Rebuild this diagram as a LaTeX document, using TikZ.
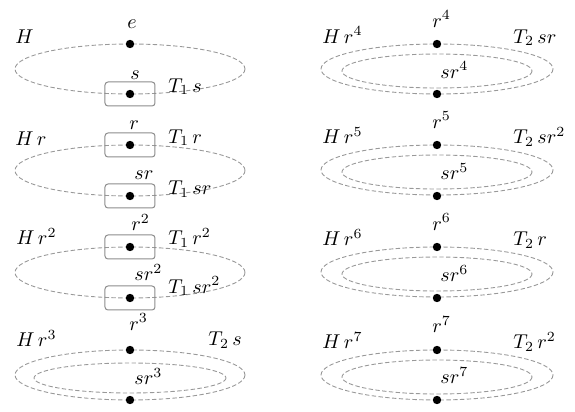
\documentclass[tikz,border=0pt]{standalone}
\usepackage{amsmath}
\begin{document}
\begin{tikzpicture}[x=0.5pt,y=-0.5pt,
    dot/.style={circle,fill=black,inner sep=0pt,minimum size=4.2pt},
    grp/.style={gray!80,dash pattern=on 2.2pt off 1.2pt,line width=0.45pt},
    cbox/.style={draw=gray!90,rounded corners=1.5pt,minimum width=25pt,minimum height=12pt,inner sep=0pt,line width=0.5pt},
    lab/.style={anchor=base west,inner sep=0pt}]
    \useasboundingbox (0,0) rectangle (575,412);
    % left column: H and its cosets
    \draw[grp] (130,69) ellipse [x radius=115,y radius=25];
    \draw[grp] (130,170.5) ellipse [x radius=115,y radius=25.5];
    \draw[grp] (130,272.5) ellipse [x radius=115,y radius=25.5];
    \draw[grp] (130,375) ellipse [x radius=115,y radius=25];
    \draw[grp] (130,378) ellipse [x radius=96,y radius=15];
    \node[cbox] (bs) at (130,94) {};
    \node[cbox] (br1) at (130,145) {};
    \node[cbox] (bsr1) at (130,196) {};
    \node[cbox] (br2) at (130,247) {};
    \node[cbox] (bsr2) at (130,298) {};
    \node[dot] (e) at (130,44) {};
    \node[dot] (s) at (130,94) {};
    \node[dot] (r1) at (130,145) {};
    \node[dot] (sr1) at (130,196) {};
    \node[dot] (r2) at (130,247) {};
    \node[dot] (sr2) at (130,298) {};
    \node[dot] (r3) at (130,350) {};
    \node[dot] (sr3) at (130,400) {};
    % left labels
    \node[lab] (lH) at (15,43) {$H$};
    \node[lab] (lHr1) at (15,146) {$H\,r$};
    \node[lab] (lHr2) at (16,245) {$H\,r^2$};
    \node[lab] (lHr3) at (16,347) {$H\,r^3$};
    \node[lab] (le) at (127,28) {$e$};
    \node[lab] (ls) at (130,80) {$s$};
    \node[lab] (lr1) at (129,129) {$r$};
    \node[lab] (lsr1) at (134,180) {$sr$};
    \node[lab] (lr2) at (131,231) {$r^2$};
    \node[lab] (lsr2) at (134,281) {$sr^2$};
    \node[lab] (lr3) at (129,330) {$r^3$};
    \node[lab] (lsr3) at (134,385) {$sr^3$};
    \node[lab] (lT1s) at (168,92) {$T_1\,s$};
    \node[lab] (lT1r) at (168,143) {$T_1\,r$};
    \node[lab] (lT1sr) at (168,195) {$T_1\,sr$};
    \node[lab] (lT1r2) at (168,245) {$T_1\,r^2$};
    \node[lab] (lT1sr2) at (168,293) {$T_1\,sr^2$};
    \node[lab] (lT2s) at (208,346) {$T_2\,s$};
    % right column: Hr^4 ... Hr^7
    \foreach \k/\yt/\yb/\t in {4/44/94/sr, 5/145/196/sr^2, 6/247/298/r, 7/350/400/r^2} {
        \draw[grp] (437,\yt+25) ellipse [x radius=116,y radius=25];
        \draw[grp] (437,\yt+27) ellipse [x radius=95,y radius=17];
        \node[dot] (r\k) at (437,\yt) {};
        \node[dot] (sr\k) at (437,\yb) {};
        \node[lab] (lHr\k) at (322,\yt-1) {$H\,r^{\k}$};
        \node[lab] (lr\k) at (432,\yt-17) {$r^{\k}$};
        \node[lab] (lsr\k) at (440,\yb-16) {$sr^{\k}$};
        \node[lab] (lT\k) at (513,\yt-1) {$T_2\,\t$};
    }
\end{tikzpicture}
\end{document}
